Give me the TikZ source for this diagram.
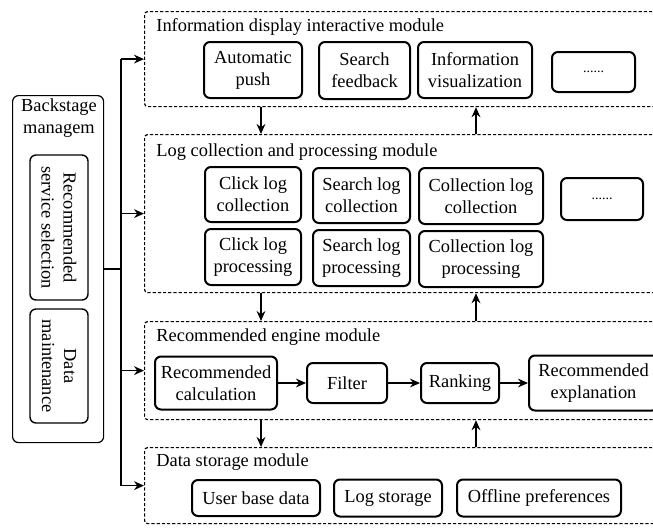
\documentclass[tikz,border=0pt]{standalone}
\usepackage{fontspec}
\setmainfont{Liberation Serif}
\usetikzlibrary{arrows.meta,positioning}

\begin{document}
\begin{tikzpicture}[
    x=0.5pt, y=-0.5pt,
    font=\fontsize{9.2}{11}\selectfont,
    >={Stealth[length=5pt,width=4.4pt]},
    module/.style={draw, dash pattern=on 1.6pt off 1pt, line width=0.6pt, rounded corners=1.5pt, minimum width=260.5pt, inner sep=0pt, anchor=north west},
    title/.style={inner sep=0pt, anchor=west},
    ibox/.style={draw, rounded corners=3pt, line width=1pt, align=center, inner sep=1pt},
    conn/.style={line width=0.8pt},
]
\useasboundingbox (0,0) rectangle (653,527);
\clip (0,0) rectangle (653,527);

% ---- information display module ----
\node[module, minimum height=47.5pt] (m1) at (144,11) {};
\node[title] (t1) at (156,27) {Information display interactive module};
\node[ibox, minimum width=49pt, minimum height=28pt] (push) at (253,70) {Automatic\\push};
\node[ibox, minimum width=45.5pt, minimum height=28.5pt] (feed) at (364.5,70.5) {Search\\feedback};
\node[ibox, minimum width=57pt, minimum height=28pt] (vis) at (475,70) {Information\\visualization};
\node[ibox, minimum width=41.5pt, minimum height=20pt] (more1) at (593.5,72) {\scriptsize ......};

% ---- log collection and processing module ----
\node[module, minimum height=79pt] (m2) at (144,134) {};
\node[title] (t2) at (156,152) {Log collection and processing module};
\node[ibox, minimum width=48pt, minimum height=27.5pt] (cc) at (253,194.5) {Click log\\collection};
\node[ibox, minimum width=48pt, minimum height=28pt, below=2.5pt of cc] (cp) {Click log\\processing};
\node[ibox, minimum width=48.5pt, minimum height=27.5pt] (sc) at (361.5,195.5) {Search log\\collection};
\node[ibox, minimum width=48.5pt, minimum height=28pt, below=2.5pt of sc] (sp) {Search log\\processing};
\node[ibox, minimum width=62pt, minimum height=28pt] (lc) at (481,196) {Collection log\\collection};
\node[ibox, minimum width=62pt, minimum height=28pt, below=2.5pt of lc] (lp) {Collection log\\processing};
\node[ibox, minimum width=41pt, minimum height=21pt] (more2) at (602,199) {\scriptsize ......};

% ---- recommended engine module ----
\node[module, minimum height=49pt] (m3) at (144,321) {};
\node[title] (t3) at (156,337) {Recommended engine module};
\node[ibox, minimum width=61pt, minimum height=26.5pt] (calc) at (216,383) {Recommended\\calculation};
\node[ibox, minimum width=40pt, minimum height=20pt, right=14pt of calc] (filt) {Filter};
\node[ibox, minimum width=39pt, minimum height=20pt, right=16pt of filt] (rank) {Ranking};
\node[ibox, minimum width=64.5pt, minimum height=27.5pt, right=14pt of rank] (expl) {Recommended\\explanation};
\draw[conn, ->] (calc) -- (filt);
\draw[conn, ->] (filt) -- (rank);
\draw[conn, ->] (rank) -- (expl);

% ---- data storage module ----
\node[module, minimum height=38pt] (m4) at (144,447) {};
\node[title] (t4) at (156,462) {Data storage module};
\node[ibox, minimum width=64pt, minimum height=18pt] (ubd) at (256,498) {User base data};
\node[ibox, minimum width=54pt, minimum height=18.5pt, right=6pt of ubd] (lst) {Log storage};
\node[ibox, minimum width=82pt, minimum height=18.5pt, right=6.5pt of lst] (offp) {Offline preferences};

% arrows between modules
\coordinate (dn) at (261,0);
\coordinate (up) at (476,0);
\foreach \a/\b in {m1/m2, m2/m3, m3/m4} {
    \draw[conn, ->] (\a.south -| dn) -- (\b.north -| dn);
    \draw[conn, ->] (\b.north -| up) -- (\a.south -| up);
}

% ---- backstage management ----
\node[draw, rounded corners=3pt, line width=0.6pt, minimum width=45.5pt, minimum height=173.5pt, anchor=north west] (bs) at (12,95) {};
\node[align=center, inner sep=0pt] (bst) at (59,118) {Backstage\\managem};
\node[ibox, line width=0.7pt, rotate=-90, minimum width=72.5pt, minimum height=29pt] (rss) at (59,227.5) {Recommended\\service selection};
\node[ibox, line width=0.7pt, rotate=-90, minimum width=57pt, minimum height=29pt] (dm) at (59,366) {Data\\maintenance};

% bus to the modules
\coordinate (bus) at (121,268);
\draw[conn] (bs.east) -- (bs.east -| bus);
\draw[conn] (bus |- m1.west) -- (bus |- m4.west);
\foreach \m in {m1, m2, m3, m4} {
    \draw[conn, ->] (bus |- \m.west) -- (\m.west);
}
\end{tikzpicture}
\end{document}
